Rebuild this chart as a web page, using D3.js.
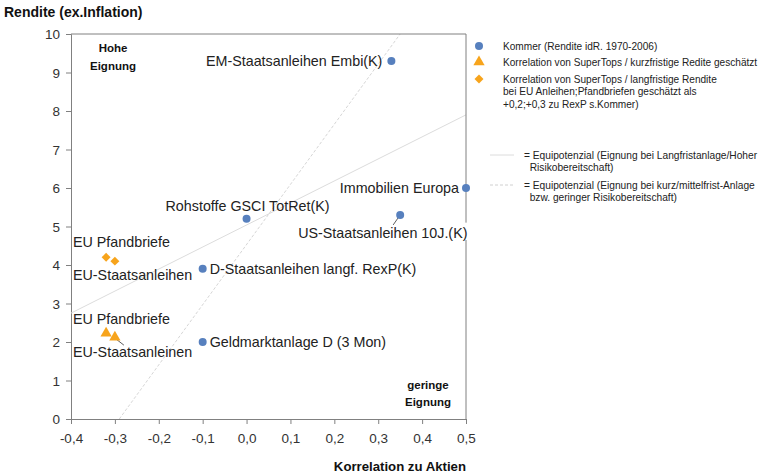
<!DOCTYPE html>
<html><head><meta charset="utf-8">
<script src="https://cdn.jsdelivr.net/npm/d3@7/dist/d3.min.js"></script>
<style>body{margin:0;background:#fff;font-family:"Liberation Sans",Arial,sans-serif}</style>
</head><body><svg id="c" width="770" height="475"></svg>
<script>
const xTicks = [-0.4,-0.3,-0.2,-0.1,0.0,0.1,0.2,0.3,0.4,0.5];
const yTicks = [0,1,2,3,4,5,6,7,8,9,10];
const kommerNames = ["EM-Staatsanleihen Embi(K)","Immobilien Europa","US-Staatsanleihen 10J.(K)","Rohstoffe GSCI TotRet(K)","D-Staatsanleihen langf. RexP(K)","Geldmarktanlage D (3 Mon)"];
const kommerX = [0.33,0.50,0.35,0.00,-0.10,-0.10];
const kommerY = [9.3,6.0,5.3,5.2,3.9,2.0];
const shortNames = ["EU Pfandbriefe","EU-Staatsanleinen"];
const shortX = [-0.32,-0.30];
const shortY = [2.2,2.1];
const longNames = ["EU Pfandbriefe","EU-Staatsanleihen"];
const longX = [-0.32,-0.30];
const longY = [4.2,4.1];
const equiLongX = [-0.4,0.5], equiLongY = [2.75,7.9];
const equiShortX = [-0.29,0.35], equiShortY = [0,10];
const legendTexts = [["Kommer (Rendite idR. 1970-2006)"],["Korrelation von SuperTops / kurzfristige Redite geschätzt"],["Korrelation von SuperTops / langfristige Rendite","bei EU Anleihen;Pfandbriefen geschätzt als","+0,2;+0,3 zu RexP s.Kommer)"]];
const lineLegend = [["= Equipotenzial (Eignung bei Langfristanlage/Hoher","  Risikobereitschaft)"],["= Equipotenzial (Eignung bei kurz/mittelfrist-Anlage","  bzw. geringer Risikobereitschaft)"]];

const svg = d3.select("#c");
const x = d3.scaleLinear().domain([-0.4,0.5]).range([71,466]);
const y = d3.scaleLinear().domain([0,10]).range([419,34]);
const blue = "#5780be", orange = "#f7a41c", axisCol = "#808080";
const fmt = d => d3.format(".1f")(d).replace(".",",").replace("−","-");

// axes
const xa = svg.append("g").attr("transform",`translate(0,${y(0)})`)
  .call(d3.axisBottom(x).tickValues(xTicks).tickFormat(fmt).tickSize(5).tickPadding(9));
const ya = svg.append("g").attr("transform",`translate(${x(-0.4)},0)`)
  .call(d3.axisLeft(y).tickValues(yTicks).tickFormat(d=>d).tickSize(5).tickPadding(6));
[xa,ya].forEach(a=>{a.select(".domain").attr("stroke",axisCol);a.selectAll(".tick line").attr("stroke",axisCol);
  a.selectAll("text").attr("font-family","Liberation Sans, Arial").attr("font-size",13.5).attr("fill","#333");});
ya.selectAll("text").attr("dy","0.35em");

// equipotential lines
svg.append("line").attr("x1",x(equiLongX[0])).attr("y1",y(equiLongY[0])).attr("x2",x(equiLongX[1])).attr("y2",y(equiLongY[1]))
  .attr("stroke","#dcdcdc").attr("stroke-width",1);
svg.append("line").attr("x1",x(equiShortX[0])).attr("y1",y(equiShortY[0])).attr("x2",x(equiShortX[1])).attr("y2",y(equiShortY[1]))
  .attr("stroke","#d6d6d6").attr("stroke-width",1).attr("stroke-dasharray","3,2");

// leader lines
svg.append("line").attr("x1",x(kommerX[2])).attr("y1",y(kommerY[2])).attr("x2",x(kommerX[2])-7).attr("y2",y(kommerY[2])+10).attr("stroke","#333").attr("stroke-width",0.8);
svg.append("line").attr("x1",x(shortX[1])).attr("y1",y(shortY[1])).attr("x2",x(shortX[1])+9).attr("y2",y(shortY[1])+7).attr("stroke","#333").attr("stroke-width",0.8);

// labels
const lab = (t,xx,yy,anchor,bg)=>{
  const g = svg.append("g");
  const tx = g.append("text").attr("x",xx).attr("y",yy).attr("dy","0.35em").attr("text-anchor",anchor||"start")
    .attr("font-size",14.3).attr("fill","#222").text(t);
  if(bg){const b=tx.node().getBBox();g.insert("rect","text").attr("x",b.x-1).attr("y",b.y+1).attr("width",b.width+3).attr("height",b.height-1).attr("fill","#fff");}
};
const kOff = [[-9,0,"end"],[-7,0,"end"],[-102,18,"start",true],[-81,-13,"start"],[7,0,"start"],[7,0,"start"]];
kommerNames.forEach((n,i)=>lab(n,x(kommerX[i])+kOff[i][0],y(kommerY[i])+kOff[i][1],kOff[i][2],kOff[i][3]));
lab(longNames[0],x(-0.4)+2,y(4.2)-15);
lab(longNames[1],x(-0.4)+2,y(4.2)+18);
lab(shortNames[0],x(-0.4)+2,y(2.2)-15);
lab(shortNames[1],x(-0.4)+2,y(2.2)+18);

// frame
svg.append("line").attr("x1",x(-0.4)).attr("x2",x(0.5)).attr("y1",y(10)).attr("y2",y(10)).attr("stroke",axisCol);
svg.append("line").attr("x1",x(0.5)).attr("x2",x(0.5)).attr("y1",y(10)).attr("y2",y(5.1)).attr("stroke",axisCol);
svg.append("line").attr("x1",x(0.5)).attr("x2",x(0.5)).attr("y1",y(4.65)).attr("y2",y(0)).attr("stroke",axisCol);

// points
svg.selectAll(".k").data(kommerX).join("circle").attr("cx",d=>x(d)).attr("cy",(d,i)=>y(kommerY[i])).attr("r",4).attr("fill",blue);
const tri = d3.symbol().type(d3.symbolTriangle).size(55);
const dia = d3.symbol().type(d3.symbolSquare).size(40);
svg.selectAll(".t").data(shortX).join("path").attr("d",tri).attr("transform",(d,i)=>`translate(${x(d)},${y(shortY[i])-1})`).attr("fill",orange);
svg.selectAll(".d").data(longX).join("path").attr("d",dia).attr("transform",(d,i)=>`translate(${x(d)},${y(longY[i])}) rotate(45)`).attr("fill",orange);

// region texts
const bold = (t,xx,yy,anchor,fs,ls)=>svg.append("text").attr("x",xx).attr("y",yy).attr("text-anchor",anchor).attr("font-weight","bold").attr("font-size",fs).attr("letter-spacing",ls||0).attr("fill","#111").text(t);
bold("Hohe",113,52,"middle",11.5); bold("Eignung",113,70,"middle",11.5);
bold("geringe",428,389,"middle",11.5); bold("Eignung",428,406,"middle",11.5);
bold("Rendite (ex.Inflation)",4,17,"start",14);
bold("Korrelation zu Aktien",466,471,"end",13.2);

// legend
const ly = [46,62,79];
svg.append("circle").attr("cx",479).attr("cy",ly[0]).attr("r",4).attr("fill",blue);
svg.append("path").attr("d",tri).attr("transform",`translate(479,${ly[1]})`).attr("fill",orange);
svg.append("path").attr("d",dia).attr("transform",`translate(479,${ly[2]}) rotate(45)`).attr("fill",orange);
legendTexts.forEach((ls,i)=>ls.forEach((t,j)=>svg.append("text").attr("x",503).attr("y",ly[i]+j*12.5).attr("dy","0.35em")
  .attr("font-size",10.1).attr("fill","#222").style("white-space","pre").text(t)));
const lly = [155,185];
svg.append("line").attr("x1",490).attr("x2",514).attr("y1",lly[0]).attr("y2",lly[0]).attr("stroke","#dcdcdc");
svg.append("line").attr("x1",490).attr("x2",514).attr("y1",lly[1]).attr("y2",lly[1]).attr("stroke","#d0d0d0").attr("stroke-dasharray","3,2");
lineLegend.forEach((ls,i)=>ls.forEach((t,j)=>svg.append("text").attr("x",524).attr("y",lly[i]+j*12.5).attr("dy","0.35em")
  .attr("font-size",10.2).attr("fill","#222").style("white-space","pre").text(t)));
</script></body></html>
